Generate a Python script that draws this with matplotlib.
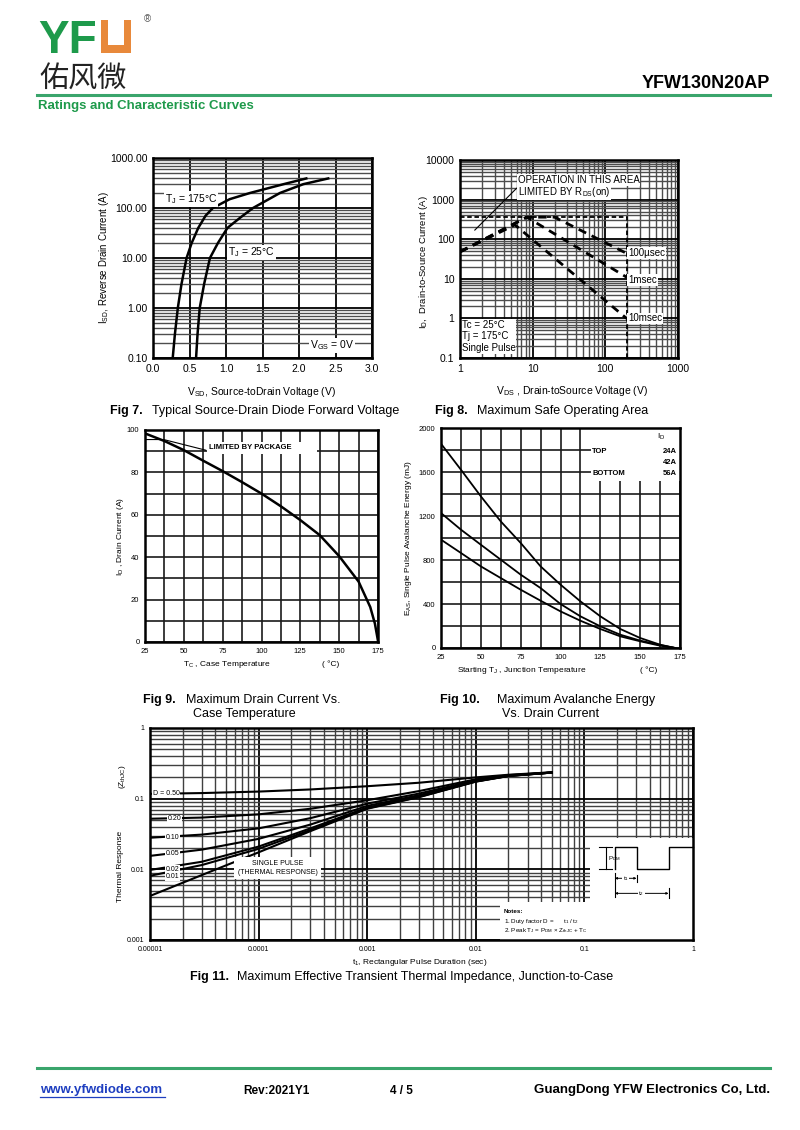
import numpy as np
import matplotlib
matplotlib.use('Agg')
import matplotlib.pyplot as plt
from matplotlib.patches import Rectangle
from matplotlib.lines import Line2D
from matplotlib.ticker import FixedLocator, NullFormatter, MultipleLocator

plt.rcParams['font.family'] = ['Liberation Sans', 'DejaVu Sans']
plt.rcParams['mathtext.fontset'] = 'custom'
plt.rcParams['mathtext.rm'] = 'Liberation Sans'
plt.rcParams['mathtext.it'] = 'Liberation Sans:italic'
plt.rcParams['mathtext.bf'] = 'Liberation Sans:bold'

# ---------------- data ----------------
# Fig 7 : source-drain diode forward voltage
vsd_175 = [0.27, 0.30, 0.34, 0.39, 0.46, 0.53, 0.62, 0.72, 0.82, 1.05, 1.33, 1.79, 2.10]
isd_175 = [0.1, 0.3, 1, 3, 10, 20, 40, 70, 100, 150, 200, 300, 390]
vsd_25 = [0.59, 0.61, 0.64, 0.70, 0.78, 0.89, 1.02, 1.20, 1.37, 1.74, 2.06, 2.40]
isd_25 = [0.1, 0.3, 1, 3, 10, 20, 40, 65, 100, 200, 300, 390]

# Fig 8 : safe operating area
soa_lim_v = [1, 196, 196]
soa_lim_i = [360, 360, 0.1]
soa_100us_v = [1, 8.3, 20, 196]
soa_100us_i = [48, 360, 360, 44]
soa_1ms_v = [1, 8.3, 196]
soa_1ms_i = [48, 360, 11]
soa_10ms_v = [1, 5.7, 196]
soa_10ms_i = [48, 230, 1.0]
rds_v = [1.6, 6.0]
rds_i = [170, 1930]

# Fig 9 : max drain current vs case temperature
tc = [25, 37.5, 50, 62.5, 75, 87.5, 100, 112.5, 125, 137.5, 150, 162.5, 170, 173, 175]
id_max = [98.4, 94.8, 90.5, 85.5, 80.6, 75.4, 70, 64, 57.5, 50.4, 40.5, 28.5, 16.5, 8.7, 0.5]
pkg_t = [25, 37, 64]
pkg_i = [95.5, 95.5, 90.5]

# Fig 10 : avalanche energy
tj = [25, 37.5, 50, 62.5, 75, 87.5, 100, 112.5, 125, 137.5, 150, 162.5, 170, 172]
eas_24a = [1857, 1621, 1379, 1151, 955, 742, 576, 424, 288, 173, 91, 30, 6, 0]
eas_42a = [1227, 1076, 939, 803, 667, 545, 400, 288, 197, 121, 67, 27, 6, 0]
eas_56a = [985, 864, 742, 636, 530, 430, 333, 248, 173, 106, 61, 21, 6, 0]
id_labels = ['24A', '42A', '56A']

# Fig 11 : transient thermal impedance
t_pulse = [1e-5, 3e-5, 1e-4, 3e-4, 1e-3, 3e-3, 1e-2, 2e-2, 5e-2]
z_single = [0.0042, 0.0083, 0.0174, 0.0347, 0.072, 0.105, 0.174, 0.209, 0.234]
z_d001 = [0.0081, 0.0115, 0.0195, 0.036, 0.073, 0.106, 0.175, 0.210, 0.234]
z_d002 = [0.0098, 0.0128, 0.021, 0.038, 0.075, 0.108, 0.176, 0.210, 0.234]
z_d005 = [0.0155, 0.019, 0.027, 0.043, 0.079, 0.112, 0.178, 0.211, 0.234]
z_d010 = [0.028, 0.031, 0.038, 0.053, 0.085, 0.118, 0.182, 0.213, 0.234]
z_d020 = [0.052, 0.054, 0.060, 0.072, 0.095, 0.128, 0.188, 0.215, 0.235]
z_d050 = [0.117, 0.120, 0.126, 0.135, 0.150, 0.168, 0.200, 0.218, 0.236]

# ---------------- figure ----------------
W, H = 800, 1130
fig = plt.figure(figsize=(8, 11.3), dpi=100)
GREEN = '#1e9a4b'
LINEGREEN = '#3aa56c'
ORANGE = '#e8893b'


def ax_at(l, t, r, b):
    return fig.add_axes([l / W, 1 - b / H, (r - l) / W, (b - t) / H])


def ftext(x, y, s, **kw):
    return fig.text(x / W, 1 - y / H, s, **kw)


def fline(xs, ys, **kw):
    fig.add_artist(Line2D([x / W for x in xs], [1 - y / H for y in ys], transform=fig.transFigure, **kw))


def style(ax, lsize=7.5):
    for s in ax.spines.values():
        s.set_linewidth(1.8)
        s.set_zorder(5)
    ax.tick_params(which='both', length=0, labelsize=lsize, pad=4)
    ax.set_axisbelow(True)


WB = dict(facecolor='white', edgecolor='none', pad=0.6)

# ---- header ----
ftext(38, 53, 'YF', fontsize=33, fontweight='bold', color=GREEN, va='baseline', ha='left')
fig.add_artist(Rectangle((101 / W, 1 - 53 / H), 30 / W, 33 / H, transform=fig.transFigure,
                         facecolor=ORANGE, edgecolor='none'))
fig.add_artist(Rectangle((108 / W, 1 - 45 / H), 16 / W, 26 / H, transform=fig.transFigure,
                         facecolor='white', edgecolor='none'))
ftext(147, 19, '®', fontsize=7, color='#555555', ha='center', va='center')
ftext(39, 80, '佑风微', fontsize=21, color='#222222', ha='left', va='center',
      family=['Noto Sans CJK SC', 'DejaVu Sans'])
ftext(770, 84, 'YFW130N20AP', fontsize=13, fontweight='bold', ha='right', va='center')
fline([37, 770], [95, 95], color=LINEGREEN, lw=2.2)
ftext(38, 106, 'Ratings and Characteristic Curves', fontsize=9.5, fontweight='bold',
      color=GREEN, ha='left', va='center')

# ---- Fig 7 ----
ax7 = ax_at(153, 158, 372, 358)
ax7.set_yscale('log')
ax7.set_xlim(0, 3)
ax7.set_ylim(0.1, 1000)
ax7.xaxis.set_major_locator(FixedLocator(np.arange(0, 3.01, 0.5)))
ax7.set_xticklabels(['%.1f' % v for v in np.arange(0, 3.01, 0.5)])
ax7.yaxis.set_major_locator(FixedLocator([0.1, 1, 10, 100, 1000]))
ax7.set_yticklabels(['0.10', '1.00', '10.00', '100.00', '1000.00'])
ax7.yaxis.set_minor_locator(FixedLocator([m * 10.0 ** e for e in range(-1, 3) for m in range(2, 10)]))
ax7.yaxis.set_minor_formatter(NullFormatter())
ax7.grid(which='major', color='k', lw=1.3)
ax7.grid(which='minor', axis='y', color='0.3', lw=1.0)
style(ax7)
ax7.plot(vsd_175, isd_175, color='k', lw=1.8, zorder=3)
ax7.plot(vsd_25, isd_25, color='k', lw=1.8, zorder=3)
ax7.text(0.16, 151, 'T$_\\mathrm{J}$ = 175°C', fontsize=7.5, va='center', ha='left', bbox=WB, zorder=4)
ax7.text(1.03, 13, 'T$_\\mathrm{J}$ = 25°C', fontsize=7.5, va='center', ha='left', bbox=WB, zorder=4)
ax7.text(2.15, 0.18, 'V$_\\mathrm{GS}$ = 0V', fontsize=7.5, va='center', ha='left', bbox=WB, zorder=4)
ftext(104, 258, 'I$_\\mathrm{SD}$, Reverse Drain Current (A)', fontsize=7, rotation=90, ha='center', va='center')
ftext(262, 392, 'V$_\\mathrm{SD}$, Source-toDrain Voltage (V)', fontsize=7.5, ha='center', va='center')

# ---- Fig 8 ----
ax8 = ax_at(460, 160, 678, 358)
ax8.set_xscale('log')
ax8.set_yscale('log')
ax8.set_xlim(1, 1000)
ax8.set_ylim(0.1, 10000)
ax8.xaxis.set_major_locator(FixedLocator([1, 10, 100, 1000]))
ax8.set_xticklabels(['1', '10', '100', '1000'])
ax8.yaxis.set_major_locator(FixedLocator([0.1, 1, 10, 100, 1000, 10000]))
ax8.set_yticklabels(['0.1', '1', '10', '100', '1000', '10000'])
ax8.xaxis.set_minor_locator(FixedLocator([m * 10.0 ** e for e in range(0, 3) for m in range(2, 10)]))
ax8.yaxis.set_minor_locator(FixedLocator([m * 10.0 ** e for e in range(-1, 4) for m in range(2, 10)]))
ax8.xaxis.set_minor_formatter(NullFormatter())
ax8.yaxis.set_minor_formatter(NullFormatter())
ax8.grid(which='major', color='k', lw=1.3)
ax8.grid(which='minor', color='0.3', lw=1.0)
style(ax8)
ax8.plot(soa_lim_v, soa_lim_i, color='k', lw=1.3, ls=(0, (2.5, 1.5)), zorder=3)
for v, i in [(soa_100us_v, soa_100us_i), (soa_1ms_v, soa_1ms_i), (soa_10ms_v, soa_10ms_i)]:
    ax8.plot(v, i, color='k', lw=2.0, ls=(0, (3, 2.2)), zorder=3)
ax8.plot(rds_v, rds_i, color='k', lw=0.8, zorder=3)
ax8.text(6.2, 3100, 'OPERATION IN THIS AREA', fontsize=7, va='center', ha='left', bbox=WB, zorder=4)
ax8.text(6.2, 1560, 'LIMITED BY R$_\\mathrm{DS}$(on)', fontsize=7, va='center', ha='left', bbox=WB, zorder=4)
ax8.text(205, 44, '100µsec', fontsize=7, va='center', ha='left', bbox=WB, zorder=4)
ax8.text(205, 9.3, '1msec', fontsize=7, va='center', ha='left', bbox=WB, zorder=4)
ax8.text(205, 1.0, '10msec', fontsize=7, va='center', ha='left', bbox=WB, zorder=4)
ax8.text(1.05, 0.35, 'Tc = 25°C\nTj = 175°C\nSingle Pulse', fontsize=7, va='center', ha='left',
         linespacing=1.15, bbox=WB, zorder=4)
ftext(423, 262, 'I$_\\mathrm{D}$,  Drain-to-Source Current (A)', fontsize=6.8, rotation=90, ha='center', va='center')
ftext(572, 391, 'V$_\\mathrm{DS}$ , Drain-toSource Voltage (V)', fontsize=7.5, ha='center', va='center')

# captions row 1
ftext(110, 411, 'Fig 7.', fontsize=9, fontweight='bold', ha='left', va='center')
ftext(152, 411, 'Typical Source-Drain Diode Forward Voltage', fontsize=9, ha='left', va='center')
ftext(435, 411, 'Fig 8.', fontsize=9, fontweight='bold', ha='left', va='center')
ftext(477, 411, 'Maximum Safe Operating Area', fontsize=9, ha='left', va='center')

# ---- Fig 9 ----
ax9 = ax_at(145, 430, 378, 642)
ax9.set_xlim(25, 175)
ax9.set_ylim(0, 100)
ax9.xaxis.set_major_locator(MultipleLocator(25))
ax9.xaxis.set_minor_locator(MultipleLocator(12.5))
ax9.yaxis.set_major_locator(MultipleLocator(20))
ax9.yaxis.set_minor_locator(MultipleLocator(10))
ax9.grid(which='both', color='0.1', lw=1.2)
style(ax9, 5.5)
ax9.add_patch(Rectangle((65, 88.6), 71, 5.6, facecolor='white', edgecolor='none', zorder=1))
ax9.plot(tc, id_max, color='k', lw=1.8, zorder=3)
ax9.plot(pkg_t, pkg_i, color='k', lw=0.8, zorder=3)
ax9.text(66, 91.6, 'LIMITED BY PACKAGE', fontsize=5.5, fontweight='bold', va='center', ha='left', zorder=4)
ftext(120, 536, 'I$_\\mathrm{D}$ , Drain Current (A)', fontsize=6, rotation=90, ha='center', va='center')
ftext(183, 664, 'T$_\\mathrm{C}$ , Case Temperature', fontsize=6, ha='left', va='center')
ftext(322, 664, '( °C)', fontsize=6, ha='left', va='center')

# ---- Fig 10 ----
ax10 = ax_at(441, 428, 680, 648)
ax10.set_xlim(25, 175)
ax10.set_ylim(0, 2000)
ax10.xaxis.set_major_locator(MultipleLocator(25))
ax10.xaxis.set_minor_locator(MultipleLocator(12.5))
ax10.yaxis.set_major_locator(MultipleLocator(400))
ax10.yaxis.set_minor_locator(MultipleLocator(200))
ax10.grid(which='both', color='0.1', lw=1.2)
style(ax10, 5.5)
ax10.add_patch(Rectangle((119, 1515), 56, 485, facecolor='white', edgecolor='none', zorder=1))
for e in (eas_24a, eas_42a, eas_56a):
    ax10.plot(tj, e, color='k', lw=1.3, zorder=3)
ax10.text(120, 1788, 'TOP', fontsize=5.5, fontweight='bold', va='center', ha='left', zorder=4)
ax10.text(120, 1590, 'BOTTOM', fontsize=5.5, fontweight='bold', va='center', ha='left', zorder=4)
for lab, yy in zip(id_labels, [1788, 1688, 1590]):
    ax10.text(173, yy, lab, fontsize=5.5, fontweight='bold', va='center', ha='right', zorder=4)
ax10.text(160.5, 1921, 'I$_\\mathrm{D}$', fontsize=6, va='center', ha='left', zorder=4)
ftext(408, 538, 'E$_\\mathrm{AS}$, Single Pulse Avalanche Energy (mJ)', fontsize=6, rotation=90, ha='center', va='center')
ftext(457, 670, 'Starting T$_\\mathrm{J}$ , Junction Temperature', fontsize=6, ha='left', va='center')
ftext(640, 670, '( °C)', fontsize=6, ha='left', va='center')

# captions row 2
ftext(143, 700, 'Fig 9.', fontsize=9, fontweight='bold', ha='left', va='center')
ftext(186, 700, 'Maximum Drain Current Vs.', fontsize=9, ha='left', va='center')
ftext(193, 714, 'Case Temperature', fontsize=9, ha='left', va='center')
ftext(440, 700, 'Fig 10.', fontsize=9, fontweight='bold', ha='left', va='center')
ftext(497, 700, 'Maximum Avalanche Energy', fontsize=9, ha='left', va='center')
ftext(502, 714, 'Vs. Drain Current', fontsize=9, ha='left', va='center')

# ---- Fig 11 ----
ax11 = ax_at(150, 728, 693, 940)
ax11.set_xscale('log')
ax11.set_yscale('log')
ax11.set_xlim(1e-5, 1)
ax11.set_ylim(1e-3, 1)
ax11.xaxis.set_major_locator(FixedLocator([1e-5, 1e-4, 1e-3, 1e-2, 1e-1, 1]))
ax11.set_xticklabels(['0.00001', '0.0001', '0.001', '0.01', '0.1', '1'])
ax11.yaxis.set_major_locator(FixedLocator([1e-3, 1e-2, 1e-1, 1]))
ax11.set_yticklabels(['0.001', '0.01', '0.1', '1'])
ax11.xaxis.set_minor_locator(FixedLocator([m * 10.0 ** e for e in range(-5, 0) for m in range(2, 10)]))
ax11.yaxis.set_minor_locator(FixedLocator([m * 10.0 ** e for e in range(-3, 0) for m in range(2, 10)]))
ax11.xaxis.set_minor_formatter(NullFormatter())
ax11.yaxis.set_minor_formatter(NullFormatter())
ax11.grid(which='major', color='k', lw=1.3)
ax11.grid(which='minor', color='0.25', lw=1.0)
style(ax11, 5)
ax11.add_patch(Rectangle((0.810, 0.0), 0.19, 0.481, transform=ax11.transAxes,
                         facecolor='white', edgecolor='none', zorder=1))
ax11.add_patch(Rectangle((0.645, 0.0), 0.355, 0.179, transform=ax11.transAxes,
                         facecolor='white', edgecolor='none', zorder=1))
for z in (z_single, z_d001, z_d002, z_d005, z_d010, z_d020, z_d050):
    ax11.plot(t_pulse, z, color='k', lw=1.5, zorder=3)
for lab, xx, yy in [('D = 0.50', 1.06e-5, 0.117), ('0.20', 1.45e-5, 0.052), ('0.10', 1.4e-5, 0.028),
                    ('0.05', 1.4e-5, 0.0165), ('0.02', 1.4e-5, 0.0101), ('0.01', 1.4e-5, 0.0078)]:
    ax11.text(xx, yy, lab, fontsize=5, va='center', ha='left', bbox=dict(facecolor='white', edgecolor='none', pad=0.3), zorder=4)
ax11.text(1.5e-4, 0.0105, 'SINGLE PULSE\n(THERMAL RESPONSE)', fontsize=5, va='center', ha='center',
          linespacing=1.3, bbox=dict(facecolor='white', edgecolor='none', pad=2.5), zorder=4)

# pulse inset
TA = ax11.transAxes
wave_x = [0.856, 0.856, 0.896, 0.896, 0.955, 0.955, 1.0]
wave_y = [0.333, 0.440, 0.440, 0.333, 0.333, 0.440, 0.440]
ax11.plot(wave_x, wave_y, color='k', lw=1.0, transform=TA, zorder=4, clip_on=False)
ax11.plot([0.839, 0.839], [0.333, 0.440], color='k', lw=0.8, transform=TA, zorder=4)
ax11.plot([0.827, 0.851], [0.440, 0.440], color='k', lw=0.8, transform=TA, zorder=4)
ax11.plot([0.827, 0.851], [0.333, 0.333], color='k', lw=0.8, transform=TA, zorder=4)
ax11.text(0.843, 0.386, 'P$_\\mathrm{DM}$', fontsize=4.5, transform=TA, va='center', ha='left', zorder=4)
for xs, ys in [([0.856, 0.856], [0.205, 0.315]), ([0.896, 0.896], [0.274, 0.307]), ([0.955, 0.955], [0.198, 0.245])]:
    ax11.plot(xs, ys, color='k', lw=0.8, transform=TA, zorder=4)
ax11.annotate('', xy=(0.896, 0.291), xytext=(0.856, 0.291), xycoords=TA,
              arrowprops=dict(arrowstyle='<|-|>', lw=0.7, color='k', mutation_scale=3, shrinkA=0, shrinkB=0), zorder=4)
ax11.annotate('', xy=(0.955, 0.220), xytext=(0.856, 0.220), xycoords=TA,
              arrowprops=dict(arrowstyle='<|-|>', lw=0.7, color='k', mutation_scale=3, shrinkA=0, shrinkB=0), zorder=4)
ax11.text(0.876, 0.291, 't$_1$', fontsize=4.5, transform=TA, va='center', ha='center',
          bbox=dict(facecolor='white', edgecolor='none', pad=0.2), zorder=5)
ax11.text(0.905, 0.220, 't$_2$', fontsize=4.5, transform=TA, va='center', ha='center',
          bbox=dict(facecolor='white', edgecolor='none', pad=0.2), zorder=5)
ax11.text(0.652, 0.133, 'Notes:', fontsize=4.5, fontweight='bold', transform=TA, va='center', ha='left', zorder=4)
ax11.text(0.652, 0.085, '1. Duty factor D =      t$_1$ / t$_2$', fontsize=4.5, transform=TA, va='center', ha='left', zorder=4)
ax11.text(0.652, 0.045, '2. Peak T$_\\mathrm{J}$ = P$_\\mathrm{DM}$ × Z$_\\mathrm{thJC}$ + T$_\\mathrm{C}$', fontsize=4.5,
          transform=TA, va='center', ha='left', zorder=4)
ftext(120, 866, 'Thermal Response', fontsize=6, rotation=90, ha='center', va='center')
ftext(122, 777, '(Z$_\\mathrm{thJC}$)', fontsize=6, rotation=90, ha='center', va='center')
ftext(420, 963, 't$_1$, Rectangular Pulse Duration (sec)', fontsize=6, ha='center', va='center')
ftext(190, 977, 'Fig 11.', fontsize=9, fontweight='bold', ha='left', va='center')
ftext(237, 977, 'Maximum Effective Transient Thermal Impedance, Junction-to-Case', fontsize=9, ha='left', va='center')

# ---- footer ----
fline([37, 770], [1068, 1068], color=LINEGREEN, lw=2.2)
ftext(40, 1090, 'www.yfwdiode.com', fontsize=9.5, fontweight='bold', color='#1f3fc0', ha='left', va='center')
fline([40, 165], [1097, 1097], color='#1f3fc0', lw=0.9)
ftext(243, 1091, 'Rev:2021Y1', fontsize=8.5, fontweight='bold', ha='left', va='center')
ftext(390, 1091, '4 / 5', fontsize=8.5, fontweight='bold', ha='left', va='center')
ftext(770, 1090, 'GuangDong YFW Electronics Co, Ltd.', fontsize=9.5, fontweight='bold', ha='right', va='center')

fig.savefig('out.png', dpi=100)
